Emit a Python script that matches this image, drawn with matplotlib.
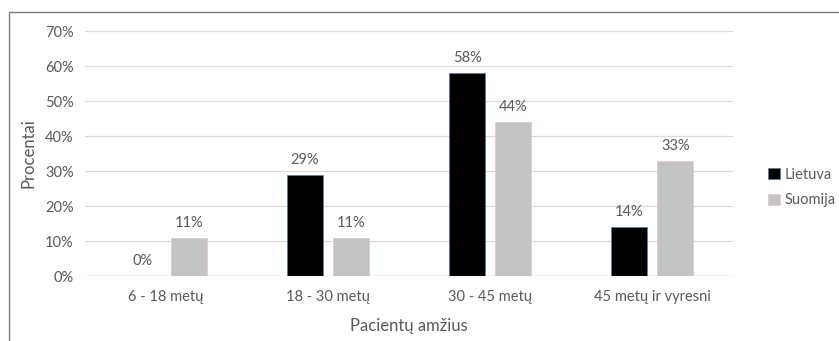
import matplotlib
matplotlib.use("Agg")
import matplotlib.pyplot as plt
import numpy as np
from matplotlib.patches import Rectangle

plt.rcParams["font.family"] = ["Lato", "DejaVu Sans"]

categories = ["6 - 18 metų", "18 - 30 metų", "30 - 45 metų", "45 metų ir vyresni"]
lietuva = [0, 29, 58, 14]
suomija = [11, 11, 44, 33]
series_names = ["Lietuva", "Suomija"]
yticks = [0, 10, 20, 30, 40, 50, 60, 70]

txt = "#595959"
fig = plt.figure(figsize=(8.39, 3.41), dpi=100)
ax = fig.add_axes([0.101, 0.19, 0.773, 0.719])

x = np.arange(len(categories))
w = 0.225
off = 0.142
b1 = ax.bar(x - off, lietuva, w, color="black", edgecolor="#5b7bb0", linewidth=0.5,
            label=series_names[0], zorder=3)
b2 = ax.bar(x + off, suomija, w, color="#c4c4c4", edgecolor="#ecc4c4", linewidth=0.5,
            label=series_names[1], zorder=3)

for bars, vals in ((b1, lietuva), (b2, suomija)):
    for r, v in zip(bars, vals):
        ax.text(r.get_x() + r.get_width() / 2, v + 2.3, f"{v}%", ha="center", va="bottom",
                fontsize=10.5, color=txt)

ax.set_xlim(-0.5, len(categories) - 0.5)
ax.set_ylim(0, 70)
ax.set_yticks(yticks)
ax.set_yticklabels([f"{t}%" for t in yticks])
ax.set_xticks(x)
ax.set_xticklabels(categories)
ax.tick_params(axis="both", length=0, labelsize=10.5, colors=txt)
ax.tick_params(axis="x", pad=10)
ax.tick_params(axis="y", pad=8)
ax.grid(axis="y", color="#d9d9d9", linewidth=0.9, zorder=0)
for s in ax.spines.values():
    s.set_visible(False)
ax.axhline(0, color="#d9d9d9", linewidth=0.9, zorder=1)

ax.set_ylabel("Procentai", fontsize=12, color=txt, labelpad=6)
ax.set_xlabel("Pacientų amžius", fontsize=12, color=txt, labelpad=10)

fig.legend(handles=[b1, b2], loc="center left", bbox_to_anchor=(0.9, 0.45),
           frameon=False, fontsize=10.5, labelcolor=txt, handlelength=0.8,
           handleheight=0.8, handletextpad=0.3, labelspacing=0.8)

# frame around the chart
fig.patches.append(Rectangle((0.0107, -0.1), 1.2, 1.065, transform=fig.transFigure,
                             fill=False, edgecolor="#7f7f7f", linewidth=1.0))

fig.savefig("out.png", dpi=100)
